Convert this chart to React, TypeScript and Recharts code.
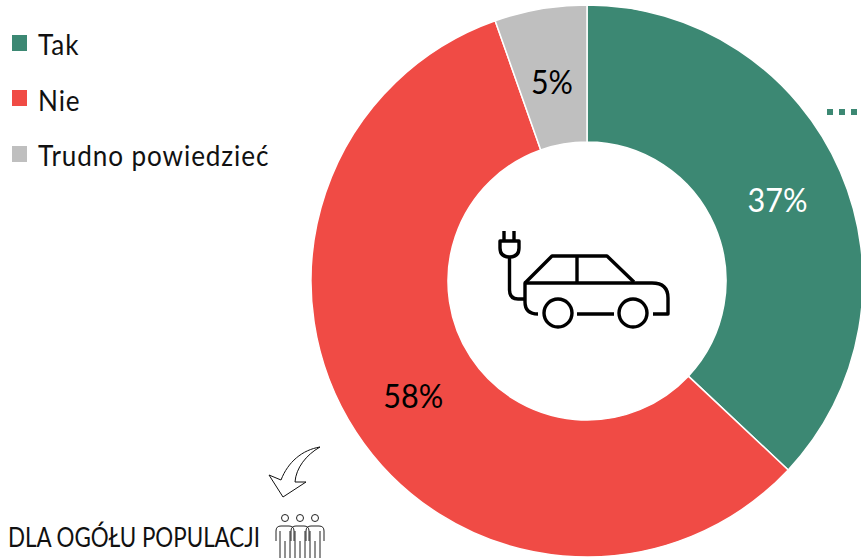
import { Legend, Pie, PieChart } from 'recharts'

const categories = ['Tak', 'Nie', 'Trudno powiedzieć']
const values = [37, 57.6, 5.4]
const colors = ['#3c8873', '#f04b45', '#bfbfbf']
const labelColors = ['#ffffff', '#000000', '#000000']
const labelDy = [13, 14, 18]

const data = categories.map((name, i) => ({ name, value: values[i], fill: colors[i] }))

const FONT = 'Lato, sans-serif'
const RAD = Math.PI / 180

function renderLabel({ cx, cy, midAngle, innerRadius, outerRadius, index, value }: any) {
  const r = (innerRadius + outerRadius) / 2
  return (
    <text
      key={categories[index]}
      x={cx + r * Math.cos(-midAngle * RAD)}
      y={cy + r * Math.sin(-midAngle * RAD) + labelDy[index]}
      fill={labelColors[index]}
      textAnchor="middle"
      fontFamily={FONT}
      fontSize={33}
      textLength={index === 2 ? 42 : 60}
      lengthAdjust="spacingAndGlyphs"
    >
      {`${Math.round(value)}%`}
    </text>
  )
}

function renderLegend({ payload }: any) {
  return (
    <div style={{ fontFamily: FONT }}>
      {payload.map((item: any) => (
        <div
          key={item.value}
          style={{ display: 'flex', alignItems: 'center', height: 55.5, fontSize: 29, letterSpacing: 1, color: '#111' }}
        >
          <span style={{ width: 15, height: 16, marginRight: 11, background: item.color }} />
          <span
            style={{
              transform: 'scaleX(0.9) translateY(1px)',
              transformOrigin: 'left center',
              whiteSpace: 'nowrap',
            }}
          >
            {item.value}
          </span>
        </div>
      ))}
    </div>
  )
}

function CarIcon() {
  return (
    <g fill="none" stroke="#000" strokeWidth={3.4} strokeLinejoin="round">
      <path d="M504 231V241M514 231V241M500 241H519V248Q519 257 509.5 257Q500 257 500 248Z" />
      <path d="M509.5 257V290Q509.5 299 518 299H525" />
      <path d="M538 314Q525 314 525 302V283H652Q668 283 668 298V314H653" />
      <path d="M525 283L552 256H607L634 282M577 256V283M577 314H614" />
      <circle cx={558} cy={313} r={14} />
      <circle cx={633} cy={313} r={14} />
    </g>
  )
}

function ArrowIcon() {
  return (
    <path
      d="M283 497L269 475L281 480C288 462 302 450 320 447C306 455 296 468 295 482L306 482Z"
      fill="#fff"
      stroke="#111"
      strokeWidth={1}
    />
  )
}

function PeopleIcon() {
  return (
    <g fill="none" stroke="#222" strokeWidth={1}>
      {[285, 300, 315].map((x) => (
        <g key={x}>
          <circle cx={x} cy={518} r={3.5} />
          <path d={`M${x - 9} 541V531Q${x - 9} 526 ${x - 4} 526H${x + 4}Q${x + 9} 526 ${x + 9} 531V541`} />
          <path d={`M${x - 5} 531V558M${x} 541V558M${x + 5} 531V558`} />
        </g>
      ))}
    </g>
  )
}

export default function App() {
  return (
    <div style={{ position: 'absolute', left: 0, top: 0, width: 861, height: 558, overflow: 'hidden' }}>
      <PieChart width={861} height={558} margin={{ top: 0, right: 0, bottom: 0, left: 0 }}>
        <Pie
          data={data}
          dataKey="value"
          nameKey="name"
          cx={587}
          cy={281}
          innerRadius={139}
          outerRadius={276}
          startAngle={90}
          endAngle={-270}
          stroke="#ffffff"
          strokeWidth={1.5}
          label={renderLabel}
          labelLine={false}
          isAnimationActive={false}
        />
        <Legend
          layout="vertical"
          align="right"
          verticalAlign="top"
          itemSorter={null}
          content={renderLegend}
          wrapperStyle={{ left: 12, right: 'auto', top: 15, width: 300 }}
        />
        <CarIcon />
        <ArrowIcon />
        <PeopleIcon />
        <g fill="#3c8873">
          <rect x={827} y={109} width={6} height={6} />
          <rect x={839} y={109} width={6} height={6} />
          <rect x={851} y={109} width={6} height={6} />
        </g>
        <text x={8} y={547} fontFamily={FONT} fontSize={26} fill="#111" textLength={252} lengthAdjust="spacingAndGlyphs">
          DLA OGÓŁU POPULACJI
        </text>
      </PieChart>
    </div>
  )
}
